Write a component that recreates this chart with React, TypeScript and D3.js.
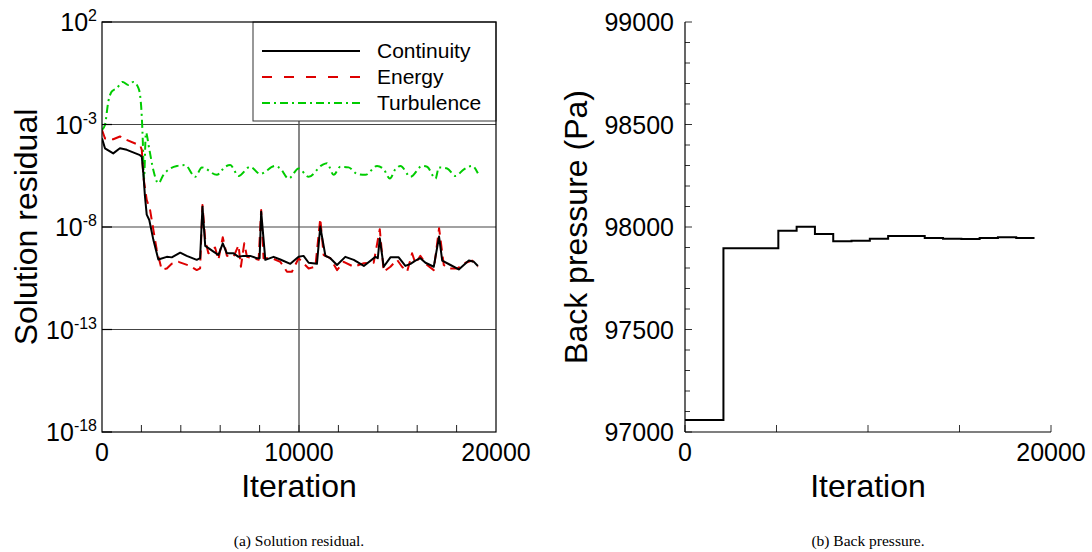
import React from "react";
import * as d3 from "d3";

// ---------- Data: (a) Solution residual ----------
const continuityIter = [0, 150, 570, 910, 1260, 1930, 2020, 2100, 2180, 2270, 2400, 2610, 2860, 3290, 3540, 3970, 4300, 4810, 4980, 5100, 5240, 5660, 5910, 6130, 6340, 6680, 6930, 7180, 7520, 7860, 8000, 8080, 8290, 8710, 9050, 9560, 9980, 10230, 10490, 10910, 11080, 11340, 11590, 11930, 12350, 12780, 13290, 13880, 14000, 14100, 14300, 14640, 15060, 15400, 15660, 15910, 16160, 16420, 16840, 17110, 17270, 17690, 18110, 18620, 18880, 19080];
const continuityRes = [2.1e-4, 6.9e-5, 3.9e-5, 6.9e-5, 5.8e-5, 3.2e-5, 2.7e-5, 4.0e-6, 3.2e-7, 4.0e-8, 2.2e-8, 2.3e-9, 2.6e-10, 3.5e-10, 3.3e-10, 5.6e-10, 3.9e-10, 2.5e-10, 3.0e-10, 9.8e-8, 1.2e-9, 6.3e-10, 4.3e-10, 1.6e-9, 5.2e-10, 5.2e-10, 3.5e-10, 3.9e-10, 3.9e-10, 3.0e-10, 3.0e-10, 5.6e-8, 2.5e-10, 3.5e-10, 2.6e-10, 1.6e-10, 3.5e-10, 3.9e-10, 1.8e-10, 1.6e-10, 1.05e-8, 3.9e-10, 3.0e-10, 1.4e-10, 3.5e-10, 2.5e-10, 1.26e-10, 3.5e-10, 3.0e-10, 2.8e-9, 1.15e-10, 3.3e-10, 3.3e-10, 1.26e-10, 1.6e-10, 2.3e-10, 3.0e-10, 1.8e-10, 1.15e-10, 3.4e-9, 2.3e-10, 1.4e-10, 8.5e-11, 2.3e-10, 2.0e-10, 1.26e-10];

const energyIter = [0, 150, 570, 910, 1170, 1760, 1930, 2020, 2100, 2270, 2440, 2610, 2780, 3030, 3290, 3540, 3880, 4470, 4810, 4980, 5100, 5240, 5400, 5740, 5910, 6130, 6340, 6680, 6930, 7050, 7220, 7360, 7690, 7950, 8080, 8200, 8630, 9050, 9390, 9640, 9980, 10230, 10490, 10830, 11080, 11250, 11590, 11930, 12270, 12780, 13290, 13790, 14100, 14300, 14640, 14980, 15230, 15490, 15740, 15910, 16160, 16500, 16840, 17110, 17350, 17610, 18030, 18450, 18790, 19080];
const energyRes = [5.4e-4, 2.1e-4, 1.9e-4, 2.6e-4, 1.9e-4, 1.1e-4, 1.0e-4, 5.8e-5, 2.8e-6, 2.1e-7, 6.8e-8, 7.1e-9, 7.6e-10, 8.5e-11, 9.5e-11, 1.6e-10, 2.0e-10, 1.26e-10, 7.9e-11, 9.5e-11, 1.2e-7, 2.3e-9, 5.2e-10, 1.0e-9, 2.5e-10, 3.2e-9, 3.9e-10, 3.5e-10, 1.3e-9, 1.15e-10, 1.6e-9, 3.5e-10, 3.0e-10, 2.5e-10, 6.8e-8, 3.0e-10, 3.0e-10, 2.0e-10, 6.6e-11, 6.6e-11, 3.0e-10, 1.7e-10, 9.5e-11, 1.15e-10, 2.6e-8, 4.3e-10, 3.0e-10, 7.9e-11, 2.0e-10, 1.15e-10, 1.7e-10, 1.8e-10, 7.8e-9, 6.6e-11, 1.15e-10, 2.5e-10, 1.15e-10, 6.6e-11, 5.2e-10, 1.7e-10, 3.9e-10, 1.4e-10, 7.9e-11, 8.7e-9, 1.4e-10, 9.5e-11, 9.5e-11, 1.8e-10, 2.3e-10, 1.15e-10];

const turbulenceIter = [0, 150, 320, 490, 750, 1050, 1340, 1590, 1850, 1930, 2020, 2070, 2130, 2230, 2400, 2600, 2860, 3120, 3800, 4220, 4730, 5070, 5830, 6250, 6510, 6930, 7520, 8030, 8790, 9050, 9470, 9980, 10490, 11170, 11420, 11760, 12100, 12520, 12950, 13370, 13960, 14300, 14610, 14890, 15150, 15660, 16250, 16500, 16930, 17100, 17520, 17940, 18370, 18790, 19080];
const turbulenceRes = [5.4e-4, 9.5e-4, 1.3e-2, 4.0e-2, 5.9e-2, 1.2e-1, 8.5e-2, 1.2e-1, 5.9e-2, 2.8e-2, 2.4e-3, 1.7e-4, 2.0e-6, 4.0e-4, 6.3e-5, 6.3e-6, 1.35e-6, 3.5e-6, 9.5e-6, 1.05e-5, 2.8e-6, 8.1e-6, 3.5e-6, 8.7e-6, 1.05e-5, 3.1e-6, 8.7e-6, 3.9e-6, 9.5e-6, 7.2e-6, 2.3e-6, 7.2e-6, 2.8e-6, 1.05e-5, 1.3e-5, 3.5e-6, 8.7e-6, 8.1e-6, 3.9e-6, 3.5e-6, 9.5e-6, 6.5e-6, 2.3e-6, 6.5e-6, 9.5e-6, 2.8e-6, 9.5e-6, 8.7e-6, 2.3e-6, 8.1e-6, 7.2e-6, 3.1e-6, 6.5e-6, 9.5e-6, 4.2e-6];

const residualExponents = [2, -3, -8, -13, -18];
const residualXTickLabels = [0, 10000, 20000];
const residualXMinorTicks = [2000, 4000, 6000, 8000, 10000, 12000, 14000, 16000, 18000];
const legendNames = ["Continuity", "Energy", "Turbulence"];

// ---------- Data: (b) Back pressure ----------
const pressureIter = [0, 2100, 5100, 6100, 7100, 8100, 9100, 10100, 11100, 12100, 13100, 14100, 15100, 16100, 17100, 18100, 19100];
const pressureValue = [97058, 97896, 97982, 98001, 97966, 97930, 97933, 97943, 97956, 97956, 97946, 97943, 97941, 97946, 97950, 97946, 97946];
const pressureYTickLabels = [97000, 97500, 98000, 98500, 99000];
const pressureXTicks = [0, 5000, 10000, 15000, 20000];
const pressureXTickLabels = [0, 20000];

const SANS = "'Liberation Sans', Arial, Helvetica, sans-serif";
const SERIF = "'Liberation Serif', 'Times New Roman', serif";

const RED = "#dd0000";
const GREEN = "#00cc00";

function ResidualChart() {
  const L = 102, R = 496, T = 22, B = 432;
  const x = d3.scaleLinear().domain([0, 20000]).range([L, R]);
  const y = d3.scaleLog().domain([1e-18, 1e2]).range([B, T]);

  const mk = (its: number[], vs: number[], curve: d3.CurveFactory) =>
    d3.line<number>().x((_, i) => x(its[i])).y((v) => y(v)).curve(curve)(vs) || "";

  const cont = mk(continuityIter, continuityRes, d3.curveLinear);
  const ener = mk(energyIter, energyRes, d3.curveLinear);
  const turb = mk(turbulenceIter, turbulenceRes, d3.curveMonotoneX);

  const legX = 253, legY = T, legW = R - 253, legH = 121 - T;
  const styles = [
    { stroke: "#000", dash: "none" },
    { stroke: RED, dash: "10,12" },
    { stroke: GREEN, dash: "8,4,2,4" },
  ];

  return (
    <g>
      <defs>
        <clipPath id="clipA">
          <rect x={L} y={T} width={R - L} height={B - T} />
        </clipPath>
      </defs>
      {/* grid */}
      {residualExponents.slice(1, 4).map((e) => (
        <line key={e} x1={L} x2={R} y1={y(Math.pow(10, e))} y2={y(Math.pow(10, e))} stroke="#444" strokeWidth={1.2} />
      ))}
      <line x1={x(10000)} x2={x(10000)} y1={T} y2={B} stroke="#555" strokeWidth={1.4} />
      {/* data */}
      <g clipPath="url(#clipA)" fill="none" strokeLinejoin="round">
        <path d={turb} stroke={GREEN} strokeWidth={2} strokeDasharray="8,4,2,4" />
        <path d={ener} stroke={RED} strokeWidth={2} strokeDasharray="10,6" />
        <path d={cont} stroke="#000" strokeWidth={2} />
      </g>
      {/* ticks */}
      {residualXMinorTicks.map((t) => (
        <line key={t} x1={x(t)} x2={x(t)} y1={B} y2={B - 7} stroke="#222" strokeWidth={1} />
      ))}
      {residualExponents.map((e) => (
        <line key={e} x1={L} x2={L + 10} y1={y(Math.pow(10, e))} y2={y(Math.pow(10, e))} stroke="#000" strokeWidth={1.2} />
      ))}
      {/* legend */}
      <rect x={legX} y={legY} width={legW} height={legH} fill="#fff" stroke="#333" strokeWidth={1} />
      {legendNames.map((n, i) => {
        const yy = 51 + i * 26;
        return (
          <g key={n}>
            <line x1={262} x2={360} y1={yy} y2={yy} stroke={styles[i].stroke} strokeWidth={2} strokeDasharray={styles[i].dash} />
            <text x={377} y={yy + 7} fontFamily={SANS} fontSize={21} fill="#000">{n}</text>
          </g>
        );
      })}
      {/* frame */}
      <rect x={L} y={T} width={R - L} height={B - T} fill="none" stroke="#000" strokeWidth={1.2} />
      {/* y labels */}
      {residualExponents.map((e) => {
        const yy = y(Math.pow(10, e));
        return (
          <text key={e} x={97} y={yy + 9} textAnchor="end" fontFamily={SANS} fontSize={25} fill="#000">
            10<tspan fontSize={16} dy={-10}>{e}</tspan>
          </text>
        );
      })}
      {/* x labels */}
      {residualXTickLabels.map((t) => (
        <text key={t} x={x(t)} y={461} textAnchor="middle" fontFamily={SANS} fontSize={25} fill="#000">{t}</text>
      ))}
      <text x={(L + R) / 2} y={497} textAnchor="middle" fontFamily={SANS} fontSize={32} fill="#000">Iteration</text>
      <text transform={`translate(37,${(T + B) / 2}) rotate(-90)`} textAnchor="middle" fontFamily={SANS} fontSize={32} fill="#000">Solution residual</text>
      <text x={(L + R) / 2} y={546} textAnchor="middle" fontFamily={SERIF} fontSize={15.5} fill="#000">(a) Solution residual.</text>
    </g>
  );
}

function PressureChart() {
  const L = 685, R = 1051, T = 22, B = 432;
  const x = d3.scaleLinear().domain([0, 20000]).range([L, R]);
  const y = d3.scaleLinear().domain([97000, 99000]).range([B, T]);
  const line = d3.line<number>().x((_, i) => x(pressureIter[i])).y((v) => y(v)).curve(d3.curveStepAfter)(pressureValue) || "";
  const minor = d3.range(97000, 99001, 100);

  return (
    <g>
      {minor.map((v) => {
        const major = v % 500 === 0;
        return <line key={v} x1={L} x2={L + (major ? 7 : 5)} y1={y(v)} y2={y(v)} stroke="#333" strokeWidth={1} />;
      })}
      {pressureXTicks.map((t) => (
        <line key={t} x1={x(t)} x2={x(t)} y1={B} y2={B - 7} stroke="#333" strokeWidth={1} />
      ))}
      <line x1={L} x2={L} y1={T} y2={B} stroke="#000" strokeWidth={1.2} />
      <line x1={L} x2={R} y1={B} y2={B} stroke="#000" strokeWidth={1.2} />
      <path d={line} fill="none" stroke="#000" strokeWidth={2} />
      {pressureYTickLabels.map((v) => (
        <text key={v} x={674} y={y(v) + 9} textAnchor="end" fontFamily={SANS} fontSize={25} fill="#000">{v}</text>
      ))}
      {pressureXTickLabels.map((t) => (
        <text key={t} x={x(t)} y={461} textAnchor="middle" fontFamily={SANS} fontSize={25} fill="#000">{t}</text>
      ))}
      <text x={(L + R) / 2} y={497} textAnchor="middle" fontFamily={SANS} fontSize={32} fill="#000">Iteration</text>
      <text transform={`translate(587,${(T + B) / 2}) rotate(-90)`} textAnchor="middle" fontFamily={SANS} fontSize={32} fill="#000">Back pressure (Pa)</text>
      <text x={(L + R) / 2} y={546} textAnchor="middle" fontFamily={SERIF} fontSize={15.5} fill="#000">(b) Back pressure.</text>
    </g>
  );
}

export default function App() {
  return (
    <svg width={1092} height={552} viewBox="0 0 1092 552" style={{ position: "absolute", left: 0, top: 0, background: "#fff" }}>
      <rect x={0} y={0} width={1092} height={552} fill="#fff" />
      <ResidualChart />
      <PressureChart />
    </svg>
  );
}
